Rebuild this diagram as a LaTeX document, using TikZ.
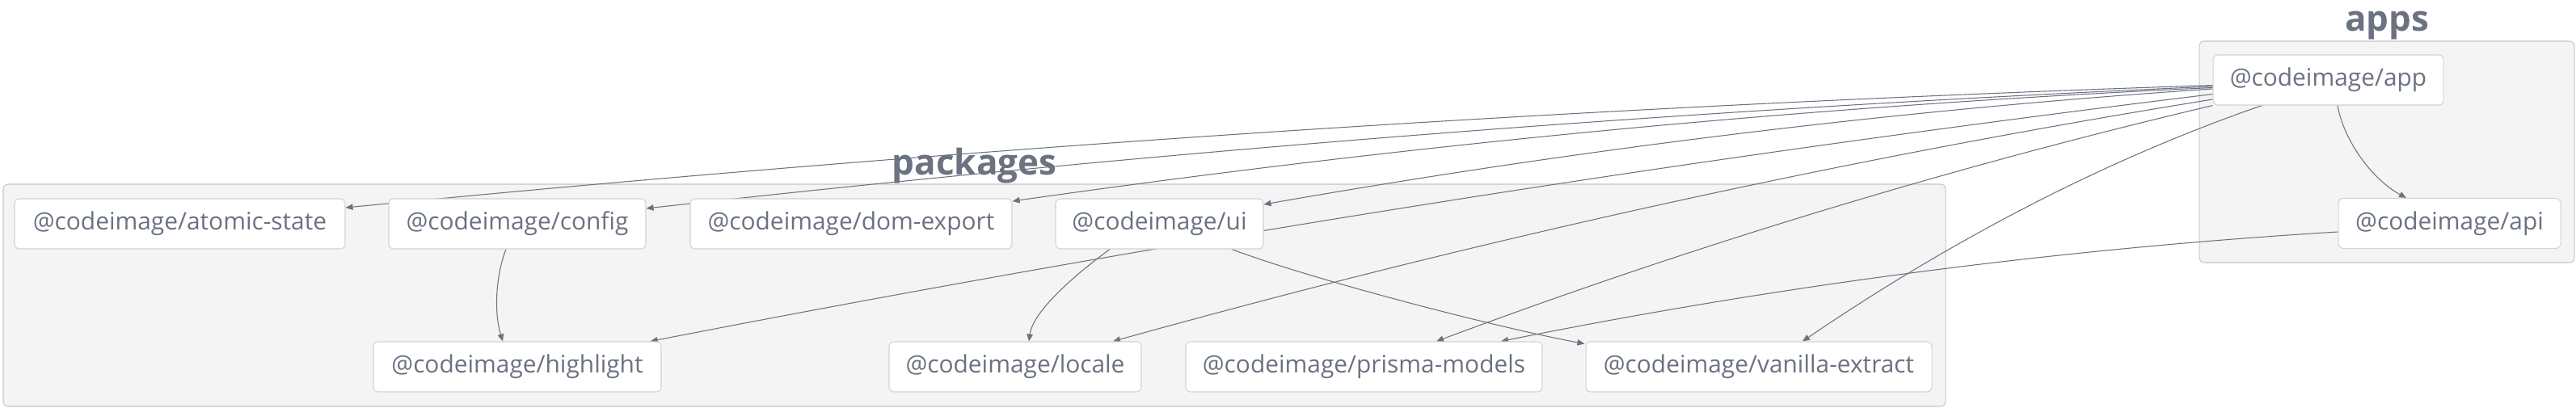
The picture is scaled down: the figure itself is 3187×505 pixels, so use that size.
\documentclass[tikz,border=0pt]{standalone}
\usepackage{fontspec}
\setmainfont{Open Sans}
\usetikzlibrary{%
	arrows.meta,%
	calc,%
	backgrounds%
}
\definecolor{slate}{HTML}{6B7280}
\definecolor{clusterfill}{HTML}{F4F4F4}
\definecolor{clusterline}{HTML}{C6C6C6}
\definecolor{nodeline}{HTML}{D2D2D2}

\begin{document}
\begin{tikzpicture}[x=0.1mm,y=-0.1mm,
		pkgnode/.style={draw=nodeline,fill=white,rounded corners=0.6mm,line width=0.3pt,
			minimum height=6.2mm,inner sep=0pt,text=slate,font=\fontsize{8.5pt}{10pt}\selectfont},
		clusterbox/.style={draw=clusterline,fill=clusterfill,rounded corners=0.6mm,line width=0.3pt},
		clusterlabel/.style={anchor=base,text=slate,font=\fontsize{12.5pt}{14pt}\selectfont\bfseries},
		deparrow/.style={draw=slate,line width=0.3pt,-{Triangle[length=0.9mm,width=0.75mm]}}
	]
		\useasboundingbox (0,0) rectangle (3187,505);
		
		% Packages
		\node[pkgnode,minimum width=40.9mm] (atomic) at (222.5,277) {@codeimage/atomic-state};
		\node[pkgnode,minimum width=31.8mm] (config) at (640,277) {@codeimage/config};
		\node[pkgnode,minimum width=39.8mm] (domexport) at (1053,277) {@codeimage/dom-export};
		\node[pkgnode,minimum width=25.7mm] (ui) at (1434.5,277) {@codeimage/ui};
		\node[pkgnode,minimum width=35.6mm] (highlight) at (640,454) {@codeimage/highlight};
		\node[pkgnode,minimum width=31.2mm] (locale) at (1256,454) {@codeimage/locale};
		\node[pkgnode,minimum width=44.1mm] (prisma) at (1687.5,454) {@codeimage/prisma-models};
		\node[pkgnode,minimum width=42.8mm] (vanilla) at (2176,454) {@codeimage/vanilla-extract};
		
		% Apps
		\node[pkgnode,minimum width=28.5mm] (app) at (2880.5,99) {@codeimage/app};
		\node[pkgnode,minimum width=27.5mm] (api) at (3030.5,276.5) {@codeimage/api};
		
		\begin{scope}[on background layer]
			% Clusters
			\filldraw[clusterbox] (4,228) rectangle (2407,503);
			\filldraw[clusterbox] (2721,51) rectangle (3185,325);
			\node[clusterlabel] (pkglabel) at (1205.5,216) {packages};
			\node[clusterlabel] (applabel) at (2953,39) {apps};
			
			% Dependencies of app
			\draw[deparrow] ($(app.west)+(0,6.5)$) .. controls (1968,131) and (1199,182) .. ($(atomic.east)+(0,-20)$);
			\draw[deparrow] ($(app.west)+(0,8)$) .. controls (2092,135) and (1446,186) .. ($(config.east)+(0,-19)$);
			\draw[deparrow] ($(app.west)+(0,9.5)$) .. controls (2244,131) and (1751,178) .. ($(domexport.east)+(0,-28)$);
			\draw[deparrow] ($(app.west)+(0,11)$) .. controls (2348,136) and (1957,184) .. ($(ui.east)+(0,-24)$);
			\draw[deparrow] ($(app.west)+(0,17.5)$) .. controls (2093,195) and (1449,297) .. ($(highlight.north east)+(-14,0)$);
			\draw[deparrow] ($(app.west)+(0,24)$) .. controls (2284,196) and (1831,296) .. ($(locale.north)+(121,0)$);
			\draw[deparrow] (app.south west) .. controls (2418,206) and (2097,303) .. ($(prisma.north)+(89.5,0)$);
			\draw[deparrow] ($(app.south)+(-82,0)$) .. controls (2609,196) and (2419,294) .. ($(vanilla.north)+(54,0)$);
			\draw[deparrow] ($(app.south)+(11.5,0)$) .. controls (2900,175) and (2935,222) .. ($(api.north)+(-53.5,0)$);
			
			% Other dependencies
			\draw[deparrow] ($(api.west)+(0,10.5)$) .. controls (2548,308) and (2202,353) .. ($(prisma.north)+(169.5,0)$);
			\draw[deparrow] ($(config.south)+(-14,0)$) .. controls (612,345) and (612,390) .. ($(highlight.north)+(-18,0)$);
			\draw[deparrow] ($(ui.south)+(-61.5,0)$) .. controls (1330,340) and (1278,385) .. ($(locale.north)+(17,0)$);
			\draw[deparrow] ($(ui.south)+(89.5,0)$) .. controls (1620,345) and (1850,405) .. ($(vanilla.north west)+(-1,3)$);
		\end{scope}
	\end{tikzpicture}
\end{document}
